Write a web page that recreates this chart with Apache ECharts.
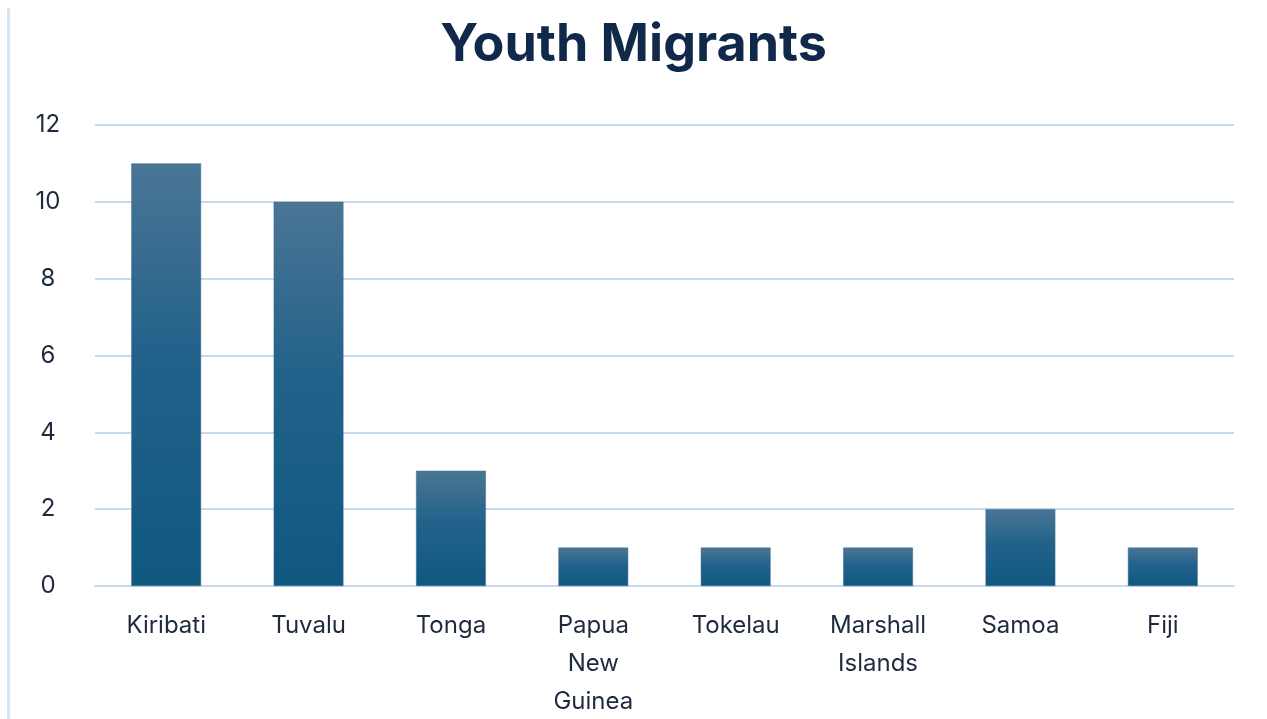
<!DOCTYPE html>
<html>
<head>
<meta charset="utf-8">
<script src="https://cdn.jsdelivr.net/npm/echarts@6/dist/echarts.min.js"></script>
<style>
    html, body { margin: 0; padding: 0; background: #fff; }
    #chart { width: 1267px; height: 719px; }
</style>
</head>
<body>
<div id="chart"></div>
<script>
/* ===== Data ===== */
const countries = ['Kiribati', 'Tuvalu', 'Tonga', 'Papua New Guinea', 'Tokelau', 'Marshall Islands', 'Samoa', 'Fiji'];
const migrants = [11, 10, 3, 1, 1, 1, 2, 1];
const yTicks = [0, 2, 4, 6, 8, 10, 12];

const chart = echarts.init(document.getElementById('chart'));

const option = {
    animation: false,
    textStyle: { fontFamily: 'Inter, "Noto Sans", sans-serif' },
    title: {
        text: 'Youth Migrants',
        left: 'center',
        top: 14,
        textStyle: {
            color: '#10294a',
            fontSize: 52,
            fontWeight: 'bold',
            fontFamily: 'Inter, "Noto Sans", sans-serif'
        }
    },
    // faint page frame on the left
    graphic: [{
        type: 'rect',
        shape: { x: 7, y: 8, width: 3, height: 711 },
        style: { fill: '#d9e5f1' }
    }],
    grid: {
        left: 95,
        right: 33,
        top: 125,
        bottom: 133,
        outerBoundsMode: 'none'
    },
    xAxis: {
        type: 'category',
        data: countries,
        axisLine: { lineStyle: { color: '#c8d8ed', width: 2 } },
        axisTick: { show: false },
        axisLabel: {
            color: '#1f2b3d',
            fontSize: 24,
            margin: 21,
            lineHeight: 38,
            interval: 0,
            formatter: v => v.split(' ').join('\n')
        }
    },
    yAxis: {
        type: 'value',
        min: yTicks[0],
        max: yTicks[yTicks.length - 1],
        interval: 2,
        axisLine: { show: false },
        axisTick: { show: false },
        splitLine: { lineStyle: { color: '#c8d8ed', width: 2 } },
        axisLabel: {
            color: '#1f2b3d',
            fontSize: 24,
            align: 'center',
            margin: 47
        }
    },
    series: [{
        type: 'bar',
        data: migrants,
        barWidth: '49%',
        itemStyle: {
            color: new echarts.graphic.LinearGradient(0, 0, 0, 1, [
                { offset: 0, color: '#4a7595' },
                { offset: 0.45, color: '#22628a' },
                { offset: 1, color: '#0f5880' }
            ]),
            borderColor: '#3f6d8e',
            borderWidth: 0.5
        }
    }]
};

chart.setOption(option);
window.addEventListener('resize', () => chart.resize());
</script>
</body>
</html>
